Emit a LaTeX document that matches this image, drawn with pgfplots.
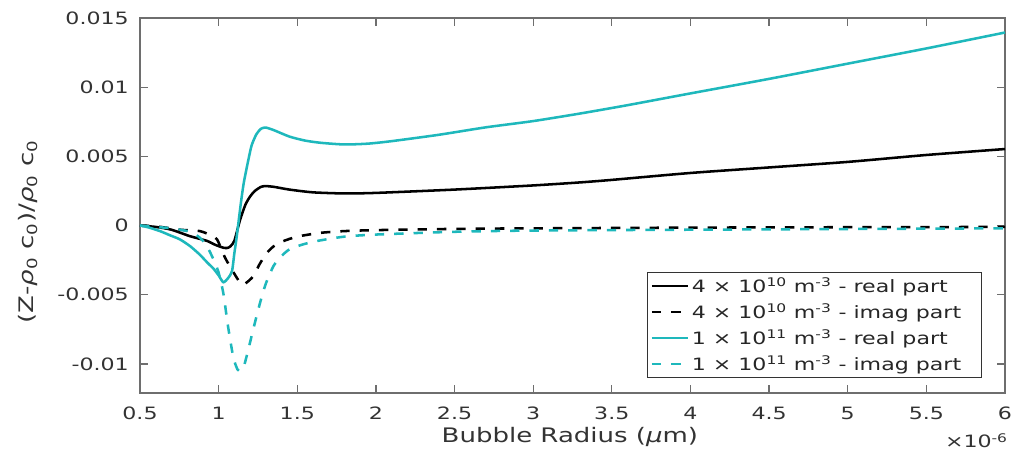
\documentclass[border=0pt]{standalone}
\usepackage{fontspec}
\setmainfont{DejaVu Sans}[FakeStretch=1.3]
\usepackage{pgfplots}
\pgfplotsset{compat=1.18}
\definecolor{zcyan}{RGB}{30,184,188}
\definecolor{axgray}{RGB}{110,110,110}

\begin{document}
\begin{tikzpicture}
\begin{axis}[
    scale only axis,
    width=648.75pt, height=281.25pt,
    xmin=0.5, xmax=6,
    ymin=-0.0121, ymax=0.015,
    xtick={0.5,1,...,6},
    xticklabels={0.5,1,1.5,2,2.5,3,3.5,4,4.5,5,5.5,6},
    ytick={-0.01,-0.005,0,0.005,0.01,0.015},
    yticklabels={-0.01,-0.005,0,0.005,0.01,0.015},
    scaled y ticks=false,
    axis line style={axgray, line width=0.9pt},
    tick style={axgray, line width=0.9pt},
    major tick length=6pt,
    tick label style={font=\fontsize{12.75}{15}\selectfont, text=black!80, inner sep=0pt},
    xticklabel style={anchor=base, yshift=-20.25pt},
    yticklabel style={anchor=east, xshift=-8.25pt},
    xlabel={Bubble Radius (\textit{μ}m)},
    xlabel style={at={(axis description cs:0.497,0)}, anchor=base, yshift=-37.5pt,
        font=\fontsize{15}{17}\selectfont, text=black!80},
    ylabel={(Z-\textit{ρ}\textsubscript{0} c\textsubscript{0})/\textit{ρ}\textsubscript{0} c\textsubscript{0}},
    ylabel style={at={(axis description cs:-0.1295,0.43)}, anchor=center,
        font=\fontsize{15}{17}\selectfont, text=black!80},
    legend style={at={(axis description cs:0.973,0.04)}, anchor=south east,
        draw=black!80, line width=0.7pt, text=black!85,
        font=\fontsize{12.75}{15}\selectfont, row sep=3pt,
        inner sep=2pt},
    legend cell align=left,
    legend image code/.code={\draw[#1, line width=1.9pt] (0pt,0pt) -- (27pt,0pt);},
]
\addplot[black, line width=1.9pt, smooth, tension=0.4] coordinates {
(0.5,0) (0.6,-0.0001) (0.7,-0.0003) (0.818,-0.00077) (0.924,-0.0011)
(0.98,-0.0014) (1.03,-0.0016) (1.055,-0.00162) (1.075,-0.0015) (1.1,-0.0011)
(1.136,0.0004) (1.17,0.0015) (1.2,0.0021) (1.23,0.0025) (1.27,0.0028)
(1.3,0.00285) (1.35,0.0028) (1.45,0.0026) (1.6,0.0024) (1.8,0.00232)
(2.0,0.00236) (2.5,0.0026) (3.0,0.0029) (3.3,0.00312) (3.5,0.0033)
(4.0,0.0038) (4.5,0.0042) (5.0,0.0046) (5.5,0.0051) (6.0,0.00553)
};
\addlegendentry{4 × 10\textsuperscript{10} m\textsuperscript{-3} - real part\hspace*{11pt}}
\addplot[black, line width=1.9pt, dash pattern=on 7pt off 7.5pt, smooth, tension=0.4] coordinates {
(0.5,0) (0.6,-0.00005) (0.754,-0.0003) (0.88,-0.0004) (0.95,-0.0007)
(0.99,-0.001) (1.04,-0.0023) (1.09,-0.0033) (1.146,-0.00426) (1.18,-0.0041)
(1.22,-0.00366) (1.26,-0.0028) (1.305,-0.002)
(1.35,-0.0015) (1.41,-0.00113) (1.5,-0.0008) (1.644,-0.00053) (1.8,-0.0004)
(2.0,-0.00033) (2.5,-0.00024) (3,-0.0002) (4,-0.00015) (5,-0.00012) (6,-0.0001)
};
\addlegendentry{4 × 10\textsuperscript{10} m\textsuperscript{-3} - imag part\hspace*{11pt}}
\addplot[zcyan, line width=1.9pt, smooth, tension=0.4] coordinates {
(0.5,0) (0.55,-0.00012) (0.627,-0.0004) (0.69,-0.0007) (0.754,-0.001)
(0.82,-0.0015) (0.88,-0.0021) (0.93,-0.0027) (0.966,-0.0031) (1.0,-0.0036)
(1.03,-0.0041) (1.06,-0.0038) (1.085,-0.0033)
(1.1,-0.002) (1.115,-0.0008) (1.14,0.0015) (1.16,0.0031) (1.19,0.0048)
(1.21,0.0058) (1.24,0.0066) (1.27,0.0070) (1.3,0.00708) (1.35,0.0069)
(1.45,0.00643) (1.55,0.00614) (1.65,0.00598) (1.8,0.00586) (1.95,0.00592)
(2.1,0.0061) (2.4,0.00656) (2.7,0.0071) (3.0,0.00755) (3.3,0.0081)
(3.6,0.0087) (4.0,0.00955) (4.5,0.0106) (5.0,0.0117) (5.5,0.0128) (6.0,0.01395)
};
\addlegendentry{1 × 10\textsuperscript{11} m\textsuperscript{-3} - real part\hspace*{11pt}}
\addplot[zcyan, line width=1.9pt, dash pattern=on 7pt off 7.5pt, smooth, tension=0.4] coordinates {
(0.5,0) (0.6,-0.0001) (0.7,-0.0002) (0.8,-0.0004) (0.86,-0.0007)
(0.9,-0.0011) (0.94,-0.0018) (0.977,-0.0027) (1.0,-0.0034) (1.03,-0.0049)
(1.06,-0.0073) (1.093,-0.0095) (1.12,-0.0104) (1.14,-0.0105) (1.16,-0.0102)
(1.19,-0.0089) (1.22,-0.0075) (1.263,-0.0056) (1.3,-0.0042) (1.35,-0.0029)
(1.4,-0.0022) (1.453,-0.0017) (1.54,-0.00135) (1.633,-0.0011) (1.8,-0.0008)
(2.0,-0.00065) (2.5,-0.00045) (3,-0.00036) (4,-0.0003) (5,-0.00025) (6,-0.0002)
};
\addlegendentry{1 × 10\textsuperscript{11} m\textsuperscript{-3} - imag part\hspace*{11pt}}
\end{axis}
\node[anchor=base east, font=\fontsize{12.75}{15}\selectfont, text=black!80, inner sep=0pt]
    at ([xshift=2.25pt, yshift=-41.25pt]current axis.south east) {×10\textsuperscript{-6}};
\pgfresetboundingbox
\path[use as bounding box] ([xshift=-105pt,yshift=-44.25pt]current axis.south west)
    rectangle ([xshift=8.25pt,yshift=13.5pt]current axis.north east);
\end{tikzpicture}
\end{document}
